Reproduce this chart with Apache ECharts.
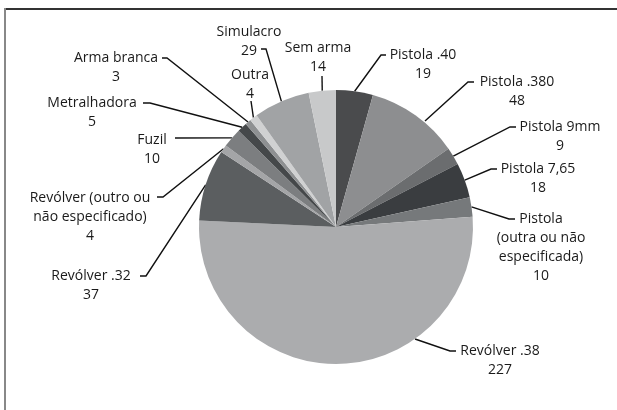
<!DOCTYPE html>
<html>
<head>
    <meta charset="utf-8">
    <script src="https://cdn.jsdelivr.net/npm/echarts@6/dist/echarts.min.js"></script>
</head>
<body style="margin:0;background:#fff">
<div id="main" style="width:617px;height:410px;"></div>

<script>
    // categories and values, clockwise from 12 o'clock
    var names = ['Pistola .40', 'Pistola .380', 'Pistola 9mm', 'Pistola 7,65',
        'Pistola\n(outra ou não\nespecificada)', 'Revólver .38', 'Revólver .32',
        'Revólver (outro ou\nnão especificado)', 'Fuzil', 'Metralhadora',
        'Arma branca', 'Outra', 'Simulacro', 'Sem arma'];
    var values = [19, 48, 9, 18, 10, 227, 37, 4, 10, 5, 3, 4, 29, 14];
    var colors = ['#4a4b4d', '#8d8e90', '#6b6d6f', '#3a3d40', '#76797b', '#abacae', '#5b5e60',
        '#a4a5a7', '#7c7e80', '#45484a', '#8e9092', '#d0d1d2', '#a1a3a5', '#c8c9ca'];

    // label placement: [centre x, first line middle y, tip x, tip y, bend x, bend y, (attach x, attach y)]
    var labelPos = [
        [423, 55, 386, 55, 381, 55],
        [517, 82, 474, 82, 468, 82, 425, 121],
        [560, 127, 516, 127, 510, 127],
        [538, 169, 497, 169, 491, 169],
        [541, 219, 515, 219, 509, 219],
        [500, 351, 456, 351, 450, 351, 415, 339],
        [91, 276, 140, 276, 146, 276],
        [90, 198, 157, 197, 163, 197],
        [152, 140, 175, 138, 175, 138],
        [92, 103, 143, 103, 150, 103],
        [116, 58, 162, 58, 167, 58],
        [250, 75, 251, 101, 251, 101],
        [249, 32, 261, 49, 266, 49],
        [318, 48, 322, 76, 322, 76]
    ];

    var myChart = echarts.init(document.getElementById('main'));

    var data = [];
    for (var i = 0; i < names.length; i++) {
        data.push({name: names[i], value: values[i], itemStyle: {color: colors[i]}});
    }

    var option = {
        animation: false,
        backgroundColor: '#fff',
        graphic: [
            {type: 'line', shape: {x1: 4, y1: 9, x2: 617, y2: 9}, style: {stroke: '#333', lineWidth: 2}},
            {type: 'line', shape: {x1: 5, y1: 8, x2: 5, y2: 410}, style: {stroke: '#888', lineWidth: 2}}
        ],
        series: [{
            type: 'pie',
            center: [336, 227],
            radius: 137,
            startAngle: 90,
            clockwise: true,
            data: data,
            itemStyle: {borderWidth: 0},
            emphasis: {disabled: true},
            label: {
                show: true,
                position: 'outside',
                formatter: '{b}\n{c}',
                fontFamily: 'Open Sans',
                fontSize: 14,
                lineHeight: 19,
                color: '#1a1a1a'
            },
            labelLine: {
                show: true,
                length: 10,
                length2: 10,
                lineStyle: {color: '#111', width: 1.4}
            },
            labelLayout: function (params) {
                var p = labelPos[params.dataIndex];
                var edge = params.labelLinePoints ? params.labelLinePoints[0] : [p[4], p[5]];
                if (p.length > 6) {
                    edge = [p[6], p[7]];
                }
                return {
                    x: p[0],
                    y: p[1] - 9.5,
                    align: 'center',
                    verticalAlign: 'top',
                    hideOverlap: false,
                    moveOverlap: null,
                    labelLinePoints: [edge, [p[4], p[5]], [p[2], p[3]]]
                };
            }
        }]
    };
    myChart.setOption(option);
</script>
</body>
</html>
